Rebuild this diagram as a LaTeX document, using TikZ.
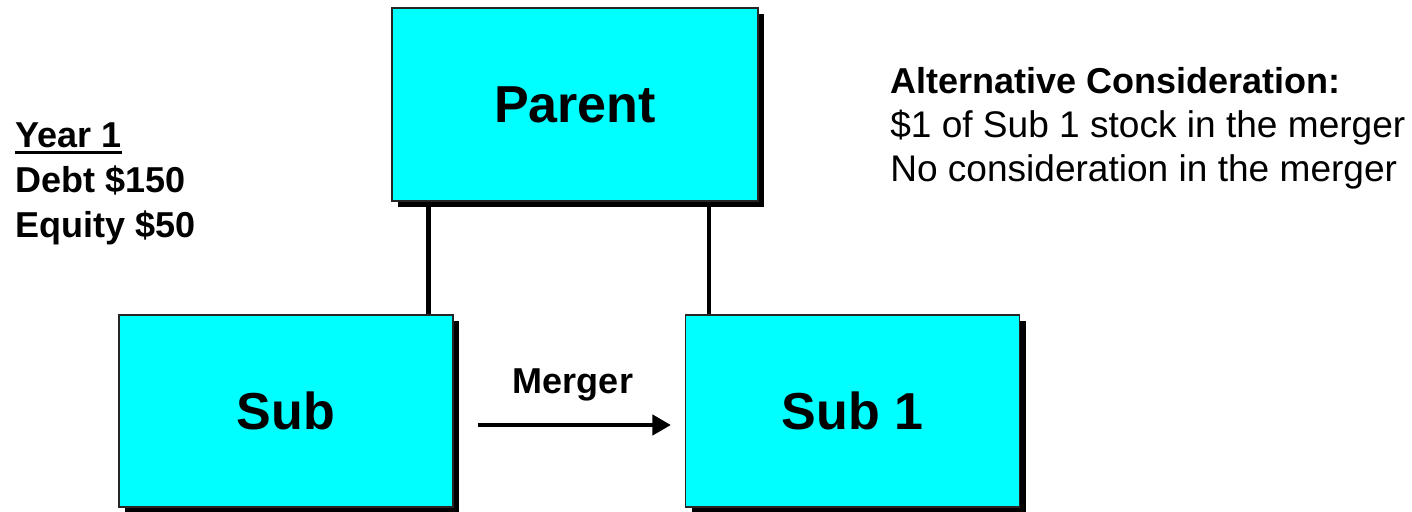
\documentclass[tikz,border=0pt]{standalone}
\usepackage{fontspec}
\setmainfont{Liberation Sans}
\usetikzlibrary{arrows.meta,shadows}
\definecolor{boxcyan}{RGB}{0,255,255}
\tikzset{
  entity/.style={rectangle, draw=black!85, line width=0.8pt, fill=boxcyan,
    minimum width=250.5pt, minimum height=144pt, inner sep=0pt,
    font=\fontsize{39}{47}\selectfont\bfseries,
    drop shadow={shadow xshift=4.5pt, shadow yshift=-4.5pt, fill=black, opacity=1}},
  link/.style={line width=3.4pt},
  flow/.style={line width=3.6pt, -{Triangle[length=14pt,width=15pt]}},
  note/.style={inner sep=0pt, anchor=base west, font=\fontsize{27.8}{33}\selectfont},
  bnote/.style={note, font=\fontsize{27}{32}\selectfont\bfseries}
}
\begin{document}
\begin{tikzpicture}[x=0.75pt, y=-0.75pt]
  \useasboundingbox (0,0) rectangle (1412,511);

  % ownership structure
  \node[entity, minimum width=274.5pt, minimum height=144.75pt] (parent) at (575,104.5) {Parent};
  \node[entity] (sub)  at (286,411)   {Sub};
  \node[entity] (sub1) at (852.5,411) {Sub 1};

  % ownership lines from the parent down to each subsidiary
  \draw[link] ([xshift=-18.75pt]sub.north east) -- ([xshift=-18.75pt]sub.north east |- parent.south);
  \draw[link] ([xshift=18pt]sub1.north west) -- ([xshift=18pt]sub1.north west |- parent.south);

  % merger step
  \coordinate (mstart) at ([shift={(18pt,-10.5pt)}]sub.east);
  \coordinate (mend)   at ([shift={(-10.5pt,-10.5pt)}]sub1.west);
  \draw[flow] (mstart) -- (mend);
  \node[bnote, anchor=base] (merger) at (573,393) {Merger};

  % capital structure
  \node[bnote] (year)   at (15,147) {Year 1};
  \draw[line width=2.25pt] ([yshift=-4pt]year.base west) -- ([yshift=-4pt]year.base east);
  \node[bnote] (debt)   at (15,192) {Debt \$150};
  \node[bnote] (equity) at (15,237) {Equity \$50};

  % alternative consideration
  \node[bnote] (alt)   at (890,93)  {Alternative Consideration:};
  \node[note]  (alt1)  at (890,137) {\$1 of Sub 1 stock in the merger};
  \node[note]  (alt2)  at (890,181) {No consideration in the merger};
\end{tikzpicture}
\end{document}
